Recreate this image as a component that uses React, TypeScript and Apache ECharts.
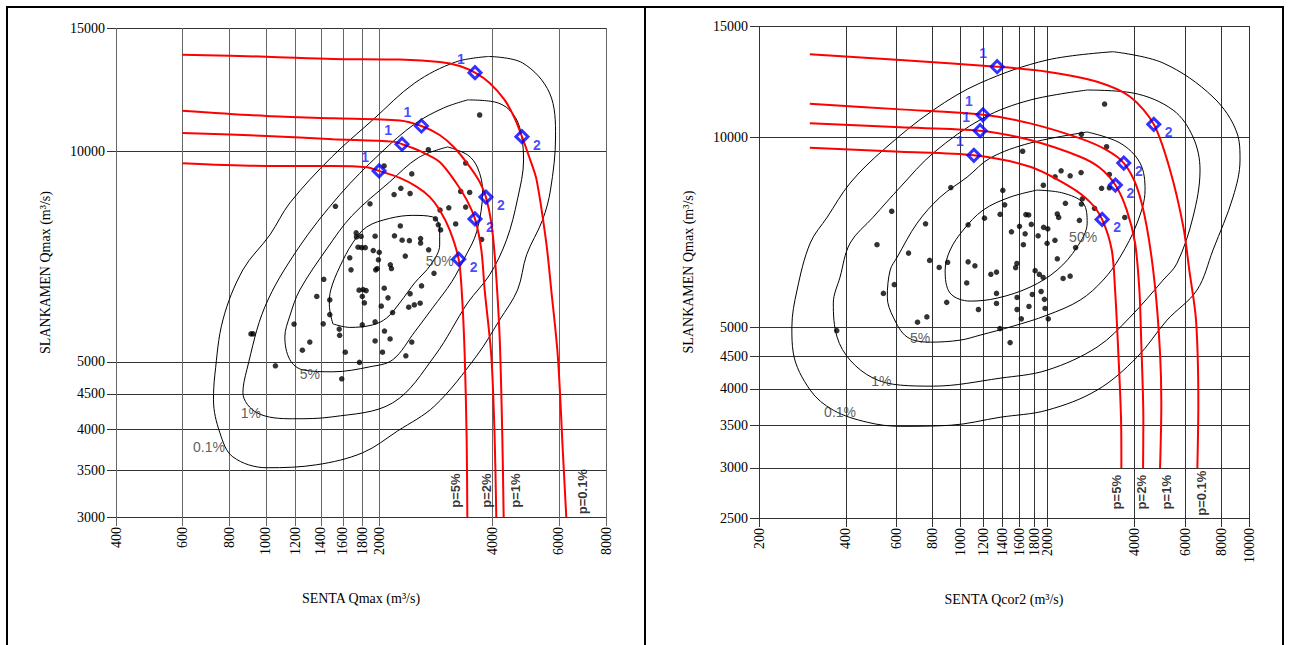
import React, { useEffect, useRef } from 'react';
import * as echarts from 'echarts';

const lg = Math.log10;

// ---------- tick values ----------
const L_X_TICKS = [400, 600, 800, 1000, 1200, 1400, 1600, 1800, 2000, 4000, 6000, 8000];
const L_Y_TICKS = [3000, 3500, 4000, 4500, 5000, 10000, 15000];
const R_X_TICKS = [200, 400, 600, 800, 1000, 1200, 1400, 1600, 1800, 2000, 4000, 6000, 8000, 10000];
const R_Y_TICKS = [2500, 3000, 3500, 4000, 4500, 5000, 10000, 15000];

// ---------- left panel (SENTA Qmax vs SLANKAMEN Qmax) ----------
const L_POINTS = [
  [3695, 11265], [2700, 10050], [2060, 9527], [2440, 9280], [3392, 9618], [2282, 8850], [2190, 8670], [2415, 8700],
  [3290, 8760], [3476, 8730], [1890, 8409], [1530, 8340], [2900, 8240], [3060, 8300], [3392, 8320], [2820, 8003],
  [2870, 7847], [2910, 7718], [3191, 7870], [2275, 7820], [1737, 7642], [1740, 7540], [1790, 7555], [1950, 7560],
  [2195, 7570], [2300, 7460], [2405, 7450], [2575, 7500], [2575, 7390], [3740, 7480], [1757, 7290], [1797, 7280],
  [1836, 7280], [1928, 7210], [2000, 7170], [2705, 7228], [2345, 7080], [1670, 7040], [1990, 6994], [1683, 6767],
  [1957, 6767], [1975, 6795], [2140, 6880], [2155, 6795], [2795, 6690], [1425, 6560], [2062, 6370], [1768, 6330],
  [1812, 6340], [1846, 6320], [2590, 6419], [1365, 6200], [1803, 6200], [2110, 6171], [2415, 6255], [1478, 6130],
  [1826, 6070], [2025, 6005], [2395, 5985], [2478, 6030], [2568, 6063], [2170, 5880], [1478, 5840], [1188, 5660],
  [1420, 5665], [1803, 5646], [1950, 5702], [1566, 5568], [1570, 5455], [2065, 5532], [1308, 5335], [1250, 5195],
  [1950, 5355], [2137, 5390], [2440, 5335], [1625, 5160], [2040, 5160], [2353, 5099], [1772, 4990], [1060, 4934],
  [1590, 4728], [913, 5481], [925, 5481],
];

const L_RED_01 = [[600, 13740], [1004, 13650], [1508, 13550], [2267, 13520], [2894, 13410], [3270, 13240], [3591, 12950], [3927, 12520], [4304, 11840], [4575, 11150], [4785, 10490], [5013, 9780], [5233, 9100], [5553, 7396], [5724, 6335], [5961, 5082], [6147, 3707], [6275, 3000]];
const L_RED_1 = [[600, 11426], [1004, 11228], [1508, 11145], [2267, 11066], [2588, 10866], [2894, 10548], [3172, 10107], [3476, 9505], [3695, 9039], [3840, 8597], [3969, 7890], [4066, 6918], [4175, 5433], [4244, 3910], [4279, 3000]];
const L_RED_2 = [[600, 10618], [1004, 10514], [1508, 10401], [2176, 10320], [2299, 10232], [2562, 10008], [2894, 9653], [3205, 9000], [3413, 8520], [3591, 8003], [3733, 7228], [3810, 6335], [3969, 5087], [4049, 3910], [4091, 3000]];
const L_RED_5 = [[600, 9611], [1004, 9527], [1508, 9527], [1850, 9486], [1998, 9372], [2267, 9158], [2511, 8901], [2722, 8605], [2894, 8243], [3076, 7718], [3250, 7009], [3310, 6335], [3371, 5145], [3413, 3868], [3427, 3000]];

const L_DIAMOND_1 = [[1998, 9372], [2299, 10232], [2588, 10866], [3591, 12950]];
const L_DIAMOND_2 = [[3250, 7009], [3591, 8003], [3840, 8597], [4785, 10490]];

const L_C50 = [[1506, 5665], [1474, 6030], [1487, 6335], [1571, 6834], [1701, 7396], [1853, 7795], [2132, 8016], [2455, 8096], [2772, 8055], [2894, 7770], [2894, 7347], [2739, 6879], [2484, 6483], [2267, 6070], [2094, 5777], [1922, 5646], [1670, 5599], [1506, 5665]];
const L_C5 = [[3039, 10141], [3434, 9876], [3650, 9464], [3763, 8775], [3628, 7668], [3371, 7040], [3114, 6504], [2772, 5972], [2484, 5517], [2172, 5034], [1887, 4918], [1506, 4838], [1253, 4869], [1158, 5034], [1123, 5427], [1158, 5816], [1231, 6335], [1451, 7251], [1691, 8082], [2132, 9039], [2546, 9796], [3039, 10141]];
const L_C1 = [[3434, 11839], [4049, 11759], [4435, 11454], [4716, 10831], [4833, 9715], [4659, 8548], [4356, 7469], [3927, 6656], [3434, 6070], [2807, 5099], [2172, 4368], [1506, 4172], [1179, 4145], [947, 4227], [869, 4515], [890, 4869], [994, 5991], [1216, 7251], [1571, 8661], [2018, 9942], [2484, 10939], [2965, 11530], [3434, 11839]];
const L_C01 = [[3904, 13659], [4804, 13370], [5665, 12112], [5877, 10478], [5698, 8803], [5429, 7977], [4923, 7109], [4659, 6335], [4175, 5739], [3628, 5099], [2807, 4325], [2239, 3983], [1808, 3707], [1365, 3563], [1006, 3528], [817, 3657], [755, 3957], [726, 4412], [732, 4790], [769, 5739], [869, 6767], [1025, 7593], [1158, 8435], [1496, 9812], [1922, 11083], [2484, 12516], [3191, 13413], [3904, 13659]];

const L_CONTOUR_LABELS = [
  { text: '50%', x: 2894, y: 6971 },
  { text: '5%', x: 1308, y: 4804 },
  { text: '1%', x: 912, y: 4227 },
  { text: '0.1%', x: 706, y: 3780 },
];
const L_P_LABELS = [
  { text: 'p=5%', x: 3185, y: 3273 },
  { text: 'p=2%', x: 3849, y: 3273 },
  { text: 'p=1%', x: 4594, y: 3273 },
  { text: 'p=0.1%', x: 6944, y: 3261 },
];

// ---------- right panel (SENTA Qcor2 vs SLANKAMEN Qmax) ----------
const R_POINTS = [
  [3157, 11290], [2623, 10110], [3208, 9663], [1641, 9506], [2231, 8852], [2398, 8693], [2617, 8797], [2127, 8660],
  [3280, 8737], [3082, 8307], [3280, 8320], [3709, 7470], [925, 8329], [1401, 8243], [1936, 8399], [1422, 7820],
  [2644, 7995], [2309, 7865], [2623, 7843], [2914, 7721], [577, 7640], [1210, 7451], [1371, 7556], [1684, 7547],
  [1722, 7539], [2164, 7566], [2188, 7470], [2582, 7390], [756, 7299], [1062, 7272], [1600, 7232], [1759, 7283],
  [1940, 7205], [2006, 7167], [1501, 7089], [1674, 7038], [1857, 6987], [2124, 6874], [1995, 6799], [1651, 6763],
  [513, 6763], [2505, 6693], [660, 6560], [2165, 6425], [781, 6388], [902, 6344], [1062, 6354], [1121, 6263],
  [843, 6227], [1568, 6318], [1552, 6222], [1813, 6154], [1332, 6121], [1273, 6072], [1875, 6072], [1933, 6004],
  [2398, 6032], [2267, 5982], [589, 5848], [1050, 5885], [540, 5665], [1332, 5665], [1902, 5704], [1773, 5643],
  [1570, 5581], [1953, 5543], [895, 5483], [1332, 5461], [1726, 5402], [1153, 5342], [1570, 5342], [1963, 5362],
  [764, 5200], [709, 5101], [1624, 5163], [2014, 5163], [1369, 4983], [372, 4946], [1485, 4735],
];

const R_RED_01 = [[300, 13530], [618, 13252], [1339, 12933], [1995, 12700], [2973, 12245], [3870, 11593], [4675, 10485], [5324, 8878], [5920, 7219], [6209, 6166], [6551, 5139], [6673, 3794], [6621, 3000]];
const R_RED_1 = [[300, 11301], [618, 11072], [1195, 10857], [1742, 10522], [2596, 9963], [3212, 9548], [3680, 9106], [4083, 8352], [4421, 7219], [4724, 5802], [4916, 4551], [4966, 3794], [4916, 3000]];
const R_RED_2 = [[300, 10522], [618, 10371], [1169, 10243], [1742, 9902], [2596, 9318], [3046, 8942], [3441, 8404], [3769, 7673], [4028, 6799], [4168, 5734], [4225, 4836], [4302, 3569], [4292, 3000]];
const R_RED_5 = [[300, 9627], [618, 9489], [1112, 9366], [1742, 8985], [2398, 8352], [2812, 7899], [3095, 7417], [3343, 6634], [3433, 5734], [3524, 4551], [3601, 3569], [3610, 3000]];

const R_DIAMOND_1 = [[1112, 9366], [1169, 10243], [1195, 10857], [1339, 12933]];
const R_DIAMOND_2 = [[3095, 7417], [3441, 8404], [3680, 9106], [4675, 10485]];

const R_C50 = [[1842, 8252], [2267, 8163], [2660, 7870], [2747, 7317], [2534, 6706], [2161, 6166], [1742, 5796], [1339, 5568], [1080, 5508], [920, 5670], [884, 6166], [920, 6634], [1021, 7133], [1197, 7673], [1485, 8044], [1842, 8252]];
const R_C5 = [[2747, 10196], [3572, 9795], [4191, 9106], [4361, 8252], [4092, 7317], [3572, 6465], [3120, 5945], [2596, 5528], [1995, 5233], [1521, 5028], [1169, 4866], [997, 4778], [785, 4743], [653, 4832], [584, 5196], [557, 5588], [570, 6166], [603, 6465], [707, 7317], [850, 8044], [1054, 8653], [1266, 9273], [1742, 9795], [2747, 10196]];
const R_C1 = [[2747, 11880], [3964, 11751], [5454, 11043], [6395, 10012], [6764, 8878], [6395, 7480], [5631, 6325], [5034, 5945], [3870, 5196], [2973, 4658], [1995, 4283], [1371, 4160], [804, 4041], [618, 4056], [498, 4160], [414, 4442], [373, 4832], [362, 5468], [382, 6011], [414, 6804], [498, 7480], [618, 8344], [804, 9445], [1197, 10726], [1742, 11454], [2747, 11880]];
const R_C01 = [[3378, 13659], [5034, 13110], [7502, 11582], [9087, 10158], [9308, 9207], [8802, 8044], [7502, 6634], [6603, 5734], [5198, 5139], [4092, 4491], [2973, 3983], [1995, 3702], [1371, 3608], [920, 3504], [618, 3491], [475, 3543], [362, 3702], [301, 3983], [263, 4558], [260, 5010], [271, 5734], [301, 6804], [345, 7480], [414, 8466], [539, 9548], [804, 11043], [1169, 12187], [1995, 13252], [3378, 13659]];

const R_CONTOUR_LABELS = [
  { text: '50%', x: 2660, y: 6956 },
  { text: '5%', x: 724, y: 4812 },
  { text: '1%', x: 531, y: 4116 },
  { text: '0.1%', x: 382, y: 3675 },
];
const R_P_LABELS = [
  { text: 'p=5%', x: 3480, y: 2746 },
  { text: 'p=2%', x: 4248, y: 2746 },
  { text: 'p=1%', x: 5186, y: 2746 },
  { text: 'p=0.1%', x: 6856, y: 2736 },
];

// ---------- option builders ----------
const SERIF = 'Liberation Serif';
const SANS = 'Liberation Sans';
const toLog = (pts: number[][]) => pts.map(([x, y]) => [lg(x), lg(y)]);

function lineSeries(gi: number, pts: number[][], color: string, width: number, z: number, smooth = 0.3) {
  return {
    type: 'line', xAxisIndex: gi, yAxisIndex: gi, data: toLog(pts), symbol: 'none', showSymbol: false,
    smooth, smoothMonotone: 'none', lineStyle: { color, width }, silent: true, z,
  };
}

function dotSeries(gi: number, pts: number[][]) {
  return {
    type: 'scatter', xAxisIndex: gi, yAxisIndex: gi, data: toLog(pts), symbol: 'circle', symbolSize: 5.5,
    itemStyle: { color: '#000' }, silent: true, z: 3,
  };
}

function diamondSeries(gi: number, pts: number[][], label: string, offset: number[]) {
  return {
    type: 'scatter', xAxisIndex: gi, yAxisIndex: gi, data: toLog(pts), symbol: 'diamond', symbolSize: 12,
    itemStyle: { color: 'rgba(255,255,255,0)', borderColor: '#0000ff', borderWidth: 3 },
    label: { show: true, formatter: label, position: 'inside', offset, color: '#1a1aff', fontFamily: SANS, fontWeight: 'bold', fontSize: 14 },
    silent: true, z: 8,
  };
}

function textSeries(gi: number, items: { text: string; x: number; y: number }[], style: any) {
  return {
    type: 'scatter', xAxisIndex: gi, yAxisIndex: gi, symbolSize: 0,
    data: items.map((it) => ({ name: it.text, value: [lg(it.x), lg(it.y)] })),
    label: { show: true, position: 'inside', formatter: '{b}', ...style },
    silent: true, z: 9,
  };
}

const fmt = (v: number) => String(Math.round(Math.pow(10, v)));

function xAxis(gi: number, ticks: number[], name: string, gridColor: string) {
  const cv = ticks.map(lg);
  return {
    type: 'value', gridIndex: gi, min: cv[0], max: cv[cv.length - 1],
    name, nameLocation: 'middle', nameGap: 74,
    nameTextStyle: { fontFamily: SERIF, fontSize: 14, color: '#000' },
    axisLine: { show: false },
    axisTick: { show: true, customValues: cv, length: 9, lineStyle: { color: gridColor, width: 1 } },
    axisLabel: { show: true, customValues: cv, rotate: 90, margin: 10, formatter: fmt, fontFamily: SERIF, fontSize: 14, color: '#000' },
    splitLine: { show: true, lineStyle: { color: gridColor, width: 1 } },
  };
}

function yAxis(gi: number, ticks: number[], name: string) {
  const cv = ticks.map(lg);
  return {
    type: 'value', gridIndex: gi, min: cv[0], max: cv[cv.length - 1],
    name, nameLocation: 'middle', nameGap: 64,
    nameTextStyle: { fontFamily: SERIF, fontSize: 14, color: '#000' },
    axisLine: { show: false },
    axisTick: { show: true, customValues: cv, length: 9, lineStyle: { color: '#333', width: 1 } },
    axisLabel: { show: true, customValues: cv, margin: 11, formatter: fmt, fontFamily: SERIF, fontSize: 14, color: '#000' },
    splitLine: { show: true, lineStyle: { color: '#333', width: 1 } },
  };
}

function panelSeries(gi: number, d: any) {
  const contourLabel = { color: '#333', fontFamily: SANS, fontSize: 14 };
  const pLabel = { color: '#000', fontFamily: SANS, fontSize: 13, fontWeight: 'bold', rotate: 90 };
  return [
    lineSeries(gi, d.c01, '#000', 1, 2, 0.35),
    lineSeries(gi, d.c1, '#000', 1, 2, 0.35),
    lineSeries(gi, d.c5, '#000', 1, 2, 0.35),
    lineSeries(gi, d.c50, '#000', 1, 2, 0.35),
    dotSeries(gi, d.points),
    lineSeries(gi, d.r01, '#ff0000', 2, 5),
    lineSeries(gi, d.r1, '#ff0000', 2, 5),
    lineSeries(gi, d.r2, '#ff0000', 2, 5),
    lineSeries(gi, d.r5, '#ff0000', 2, 5),
    diamondSeries(gi, d.d1, '1', [-14, -14]),
    diamondSeries(gi, d.d2, '2', [15, 8]),
    textSeries(gi, d.cLabels, contourLabel),
    textSeries(gi, d.pLabels, pLabel),
  ];
}

export default function App() {
  const ref = useRef<HTMLDivElement>(null);
  useEffect(() => {
    if (!ref.current) return;
    const chart = echarts.init(ref.current, null, { renderer: 'svg' });
    const option: any = {
      animation: false,
      backgroundColor: '#fff',
      textStyle: { fontFamily: SERIF },
      graphic: [
        { type: 'rect', silent: true, shape: { x: 7, y: 7, width: 638, height: 660 }, style: { fill: 'none', stroke: '#000', lineWidth: 2 } },
        { type: 'rect', silent: true, shape: { x: 645, y: 7, width: 638, height: 660 }, style: { fill: 'none', stroke: '#000', lineWidth: 2 } },
      ],
      grid: [
        { left: 116, top: 28, width: 490, height: 489 },
        { left: 759, top: 26, width: 490, height: 492 },
      ],
      xAxis: [
        xAxis(0, L_X_TICKS, 'SENTA Qmax (m³/s)', '#666'),
        xAxis(1, R_X_TICKS, 'SENTA Qcor2 (m³/s)', '#333'),
      ],
      yAxis: [
        yAxis(0, L_Y_TICKS, 'SLANKAMEN Qmax (m³/s)'),
        yAxis(1, R_Y_TICKS, 'SLANKAMEN Qmax (m³/s)'),
      ],
      series: [
        ...panelSeries(0, {
          points: L_POINTS, c50: L_C50, c5: L_C5, c1: L_C1, c01: L_C01,
          r01: L_RED_01, r1: L_RED_1, r2: L_RED_2, r5: L_RED_5,
          d1: L_DIAMOND_1, d2: L_DIAMOND_2, cLabels: L_CONTOUR_LABELS, pLabels: L_P_LABELS,
        }),
        ...panelSeries(1, {
          points: R_POINTS, c50: R_C50, c5: R_C5, c1: R_C1, c01: R_C01,
          r01: R_RED_01, r1: R_RED_1, r2: R_RED_2, r5: R_RED_5,
          d1: R_DIAMOND_1, d2: R_DIAMOND_2, cLabels: R_CONTOUR_LABELS, pLabels: R_P_LABELS,
        }),
      ],
    };
    chart.setOption(option);
    return () => chart.dispose();
  }, []);
  return <div ref={ref} style={{ position: 'absolute', left: 0, top: 0, width: 1289, height: 645 }} />;
}
